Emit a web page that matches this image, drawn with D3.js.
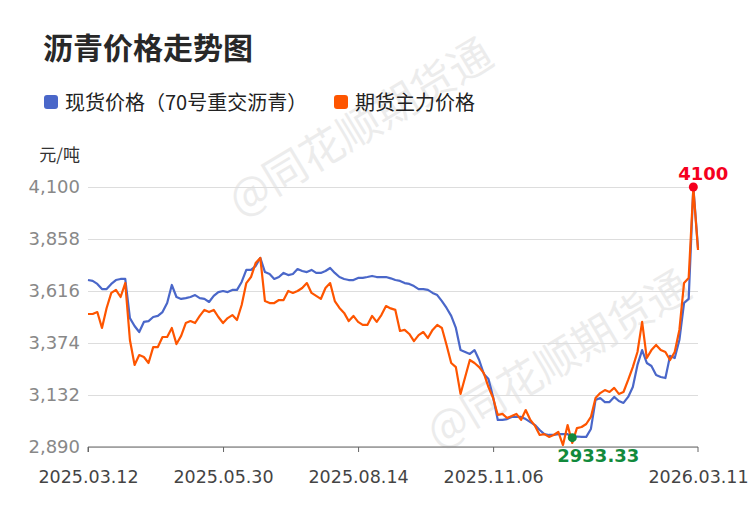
<!DOCTYPE html>
<html><head><meta charset="utf-8">
<script src="https://cdn.jsdelivr.net/npm/d3@7"></script>
<style>body{margin:0;background:#fff}</style>
</head><body><svg id="c" width="750" height="510"></svg>
<script>
const title = "沥青价格走势图";
const seriesNames = ["现货价格（70号重交沥青）", "期货主力价格"];
const seriesColors = ["#4a67c9", "#fe5500"];
const unit = "元/吨";
const spot = [
  3667,3663,3649,3625,3625,3649,3667,3672,3672,3490,
  3453,3425,3472,3476,3495,3500,3518,3560,3644,3588,
  3579,3583,3588,3597,3583,3579,3565,3593,3611,3616,
  3611,3621,3621,3658,3714,3714,3732,3770,3704,3695,
  3672,3681,3700,3690,3695,3718,3709,3704,3714,3700,
  3700,3709,3723,3700,3681,3672,3667,3667,3677,3677,
  3681,3686,3681,3681,3681,3675,
  3667,3663,3653,3649,3639,
  3625,3625,3621,3607,3597,3569,3537,3500,3444,3341,
  3332,3323,3341,3295,3230,3206,3123,3016,3016,3020,
  3030,3030,3030,3020,3006,2992,2969,2950,2946,2946,
  2950,2950,2950,2933.33,2939,2937,2937,2974,3109,3118,
  3099,3099,3123,3104,3095,3123,3169,3272,3341,3281,
  3267,3225,3216,3211,3314,3304,3388,3560,3579,4100,3816
];
const futures = [
  3509,3509,3518,3444,3537,3607,3621,3588,3653,3388,
  3272,3318,3309,3281,3355,3355,3402,3402,3444,3369,
  3407,3467,3476,3467,3500,3528,3518,3528,3495,3467,
  3490,3504,3481,3551,3653,3681,3746,3770,3569,3560,
  3560,3574,3574,3616,3607,3616,3630,3653,3607,3593,
  3579,3630,3653,3569,3537,3514,3476,3500,3472,3458,
  3458,3500,3472,3504,3546,3535,
  3528,3430,3435,3416,3383,
  3411,3425,3397,3435,3458,3444,3365,3281,3262,3137,
  3216,3295,3281,3262,3234,3169,3118,3039,3044,3025,
  3034,3044,3016,3062,3016,2988,2946,2950,2937,2946,
  2960,2899,2992,2909,2978,2983,2997,3030,3118,3141,
  3155,3146,3165,3137,3146,3202,3262,3332,3472,3304,
  3341,3365,3341,3332,3295,3332,3435,3653,3677,4095,3807
];
const xTickIndex = [0, 29, 58, 87, 131];
const xTickLabels = ["2025.03.12", "2025.05.30", "2025.08.14", "2025.11.06", "2026.03.11"];
const yTicks = [2890, 3132, 3374, 3616, 3858, 4100];
const watermark = "@同花顺期货通";

const svg = d3.select("#c");
const cjk = "'Noto Sans CJK SC','Noto Sans',sans-serif";
const num = "'DejaVu Sans',sans-serif";

const x = d3.scaleLinear().domain([0, spot.length - 1]).range([88, 698]);
const y = d3.scaleLinear().domain([yTicks[0], yTicks[yTicks.length - 1]]).range([447, 187]);

// title
svg.append("text").attr("x", 43).attr("y", 59).text(title)
  .style("font-family", cjk).style("font-size", "30px").style("font-weight", "bold").attr("fill", "#282828");

// legend
const legX = [44, 334];
seriesNames.forEach((n, i) => {
  svg.append("rect").attr("x", legX[i]).attr("y", 95).attr("width", 14).attr("height", 14)
    .attr("rx", 3).attr("fill", seriesColors[i]);
  svg.append("text").attr("x", legX[i] + 21).attr("y", 110).text(n)
    .style("font-family", cjk).style("font-size", "20px").attr("fill", "#222");
});

// unit
svg.append("text").attr("x", 80).attr("y", 161).attr("text-anchor", "end").text(unit)
  .style("font-family", cjk).style("font-size", "17px").attr("fill", "#333");

// watermarks
[[362, 130], [560, 362]].forEach(([cx, cy]) => {
  svg.append("text").attr("transform", `translate(${cx},${cy}) rotate(-31)`)
    .attr("text-anchor", "middle").attr("dominant-baseline", "middle").text(watermark)
    .style("font-family", cjk).style("font-size", "43px").attr("fill", "#000").attr("opacity", 0.07);
});

// grid + y axis
const yAxis = d3.axisLeft(y).tickValues(yTicks).tickSize(-(698 - 88)).tickPadding(8)
  .tickFormat(d3.format(","));
const gy = svg.append("g").attr("transform", "translate(88,0)").call(yAxis);
gy.select(".domain").remove();
gy.selectAll(".tick line").attr("stroke", "#dddddd");
gy.selectAll(".tick text").attr("fill", "#888").style("font-family", num).style("font-size", "18px");

// x axis
const xAxis = d3.axisBottom(x).tickValues(xTickIndex).tickSize(5).tickPadding(19)
  .tickFormat((d, i) => xTickLabels[i]);
const gx = svg.append("g").attr("transform", "translate(0,447)").call(xAxis);
gx.select(".domain").attr("stroke", "#666").attr("d", "M88,5V0H698V5");
gx.selectAll(".tick line").attr("stroke", "#666");
gx.selectAll(".tick text").attr("fill", "#444").style("font-family", num).style("font-size", "17.5px");
gx.selectAll(".tick").filter((d, i) => i === xTickIndex.length - 1).select("line").remove();

// lines
const line = d3.line().x((d, i) => x(i)).y(d => y(d));
[spot, futures].forEach((s, k) => {
  svg.append("path").datum(s).attr("d", line).attr("fill", "none")
    .attr("stroke", seriesColors[k]).attr("stroke-width", 2.2).attr("stroke-linejoin", "round");
});

// max / min markers on spot series
const maxI = d3.maxIndex(spot), minI = d3.minIndex(spot);
svg.append("circle").attr("cx", x(maxI)).attr("cy", y(spot[maxI])).attr("r", 4.5).attr("fill", "#f5001e");
svg.append("text").attr("x", x(maxI) + 10).attr("y", y(spot[maxI]) - 7).attr("text-anchor", "middle")
  .text(String(spot[maxI])).style("font-family", num).style("font-size", "18px").style("font-weight", "bold")
  .attr("fill", "#f5001e");
svg.append("circle").attr("cx", x(minI)).attr("cy", y(spot[minI])).attr("r", 4.5).attr("fill", "#128a3c");
svg.append("text").attr("x", x(minI) + 26).attr("y", y(spot[minI]) + 24).attr("text-anchor", "middle")
  .text(spot[minI].toFixed(2)).style("font-family", num).style("font-size", "18px").style("font-weight", "bold")
  .attr("fill", "#128a3c");
</script></body></html>
